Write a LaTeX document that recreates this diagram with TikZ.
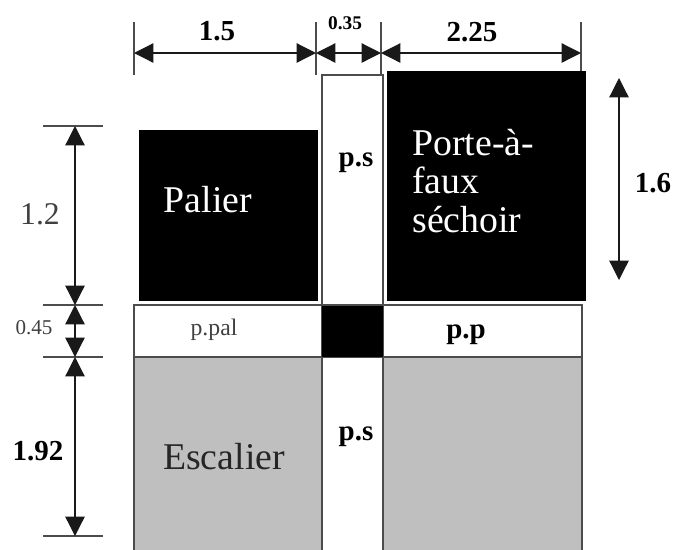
\documentclass[tikz,border=0pt]{standalone}
\usepackage{fontspec}
\setmainfont{Liberation Serif}
\usetikzlibrary{arrows.meta}

\definecolor{wallgray}{gray}{0.75}
\definecolor{edgegray}{gray}{0.3}
\tikzset{
  cote/.style={line width=0.7pt,color=black!90,{Triangle[length=11pt,width=11pt]}-{Triangle[length=11pt,width=11pt]}},
  repere/.style={line width=0.6pt,color=black!70},
  piece/.style={line width=1pt,draw=edgegray},
  grand/.style={font=\fontsize{21.5}{22}\selectfont},
  moyen/.style={font=\bfseries\fontsize{16.5}{18}\selectfont},
  petit/.style={font=\fontsize{12}{14}\selectfont}
}

\begin{document}
\begin{tikzpicture}[x=0.02cm,y=-0.02cm]
\useasboundingbox (0,0) rectangle (676,549);
% lower part
\draw[piece,fill=wallgray] (134,357) rectangle (322,556);
\draw[piece,fill=wallgray] (383,357) rectangle (582,556);
\draw[piece,fill=white] (322,357) rectangle (383,556);
% beams
\draw[piece,fill=white] (134,305) rectangle (322,357);
\draw[piece,fill=white] (383,305) rectangle (582,357);
\fill[black] (322,305) rectangle (383,357);
% upper part
\draw[piece,fill=white] (322,75) rectangle (383,305);
\fill[black] (139,130) rectangle (318,301);
\fill[black] (387,71) rectangle (586,301);
% dimension marks
\coordinate (h0) at (134,53);
\coordinate (h1) at (316,53);
\coordinate (h2) at (381,53);
\coordinate (h3) at (581,53);
\coordinate (v0) at (75,126);
\coordinate (v1) at (75,305);
\coordinate (v2) at (75,357);
\coordinate (v3) at (75,536);
\coordinate (w0) at (619,78);
\coordinate (w1) at (619,280);
\draw[repere] (134,22) -- (134,75);
\draw[repere] (316,22) -- (316,75);
\draw[repere] (381,22) -- (381,75);
\draw[repere] (581,22) -- (581,71);
\draw[repere] (43,126) -- (103,126);
\draw[repere] (43,305) -- (103,305);
\draw[repere] (43,357) -- (103,357);
\draw[repere] (43,536) -- (103,536);
\draw[cote] (h0) -- (h1);
\draw[cote] (h1) -- (h2);
\draw[cote] (h2) -- (h3);
\draw[cote] (v0) -- (v1);
\draw[cote] (v1) -- (v2);
\draw[cote] (v2) -- (v3);
\draw[cote] (w0) -- (w1);
% dimensions
\node[moyen] (l15) at (217,31) {1.5};
\node[font=\bfseries\fontsize{11}{12}\selectfont] (l035) at (345,23) {0.35};
\node[moyen] (l225) at (472,32) {2.25};
\node[font=\fontsize{18}{20}\selectfont,color=black!75] (l12) at (40,214) {1.2};
\node[petit,color=black!75] (l045) at (34,328) {0.45};
\node[moyen] (l192) at (38,451) {1.92};
\node[moyen] (l16) at (653,183) {1.6};
% rooms
\node[grand,color=white] (palier) at (208,200) {Palier};
\node[grand,color=white,anchor=west,align=left,inner sep=0pt] (sechoir) at (412,181) {Porte-à-\\[0pt]faux\\[0pt]séchoir};
\node[grand,color=black!85] (escalier) at (224,457) {Escalier};
\node[moyen] (ps1) at (356,163) {p.s};
\node[moyen] (ps2) at (356,437) {p.s};
\node[moyen] (pp) at (466,335) {p.p};
\node[font=\fontsize{13.5}{14}\selectfont,color=black!75] (ppal) at (214,330) {p.pal};
\end{tikzpicture}
\end{document}
